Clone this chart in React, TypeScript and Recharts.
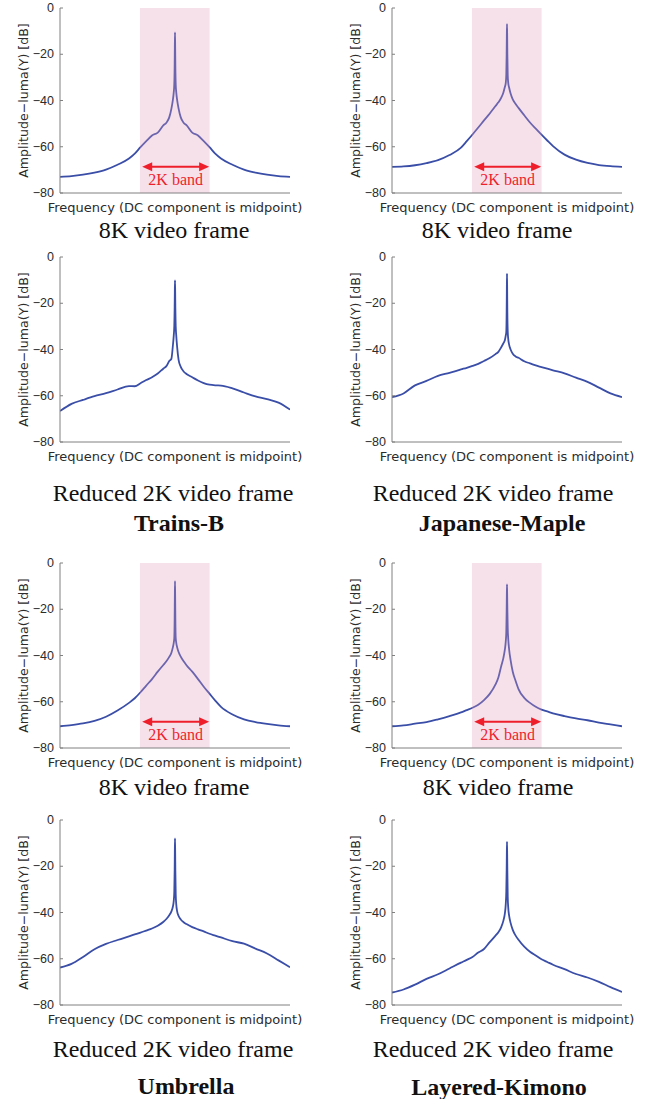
import { LineChart, Line, XAxis, YAxis, ReferenceArea, ReferenceLine } from 'recharts'

// frequency bins (DC component in the middle), denser around the DC spike
const FREQ = [
  0, 256, 512, 768, 1024, 1280, 1536, 1664, 1792, 1920, 2048, 2176, 2304, 2368, 2432, 2480, 2512, 2532, 2544, 2552, 2556,
  2560,
  2564, 2568, 2576, 2588, 2608, 2640, 2688, 2752, 2816, 2944, 3072, 3200, 3328, 3456, 3584, 3840, 4096, 4352, 4608, 4864, 5120,
]

// amplitude in dB, one array per panel
const TRAINS_8K = [
  -73.0, -72.7, -72.1, -71.2, -69.9, -67.8, -65.1, -63.0, -60.2, -57.6, -55.1, -53.9, -50.7, -49.6, -47.3, -43.5, -39.8, -36.5, -33, -25, -17,
  -10.5,
  -17, -25, -33, -36.5, -39.8, -43.5, -47.3, -49.6, -50.7, -53.9, -55.1, -57.6, -60.2, -63.0, -65.1, -67.8, -69.9, -71.2, -72.1, -72.7, -73.0,
]
const TRAINS_2K = [
  -66.6, -63.5, -61.8, -60.2, -58.9, -57.3, -55.8, -55.9, -54.6, -53.2, -52.0, -50.4, -48.2, -47.2, -45.0, -44.0, -38.5, -34, -30, -22, -15,
  -10.1,
  -15, -22, -30, -34, -39, -44.5, -47.5, -49.5, -50.6, -52.0, -53.4, -54.5, -55.2, -55.5, -55.6, -56.8, -58.6, -60.3, -61.5, -63.0, -66.0,
]
const MAPLE_8K = [
  -68.7, -68.5, -68.0, -67.1, -65.8, -63.6, -60.4, -57.6, -54.7, -51.7, -48.6, -45.6, -42.4, -40.8, -38.8, -36.5, -34.2, -32.5, -29, -20, -12,
  -7,
  -12, -20, -29, -32.5, -34.5, -37, -39.5, -41.5, -43.2, -46.4, -49.5, -52.2, -54.8, -57.3, -59.7, -63.4, -65.6, -67.0, -67.9, -68.4, -68.7,
]
const MAPLE_2K = [
  -60.6, -59.0, -55.5, -53.6, -51.4, -50.1, -48.6, -47.9, -47.1, -46.2, -45.0, -43.7, -42.0, -41.0, -39.0, -37.3, -36.0, -34.0, -32.5, -24, -15,
  -7.2,
  -15, -24, -32, -35.5, -38, -40, -41.8, -43, -43.6, -45.1, -46.0, -46.9, -47.6, -48.3, -49.0, -50.3, -52.2, -54.0, -56.5, -59.0, -60.6,
]
const UMBRELLA_8K = [
  -70.6, -70.1, -69.4, -68.3, -66.5, -63.8, -60.5, -58.5, -55.9, -53.0, -50.2, -47.0, -44.0, -42.5, -40.6, -38.8, -36.5, -34.5, -32.5, -24, -15,
  -7.8,
  -15, -24, -32.5, -34.5, -36.5, -38.5, -40.5, -42.5, -44.2, -47.0, -50.2, -53.5, -56.5, -59.5, -62.2, -65.5, -67.6, -68.8, -69.6, -70.2, -70.6,
]
const UMBRELLA_2K = [
  -63.8, -62.2, -59.2, -55.9, -53.6, -51.9, -50.3, -49.5, -48.7, -47.8, -46.9, -45.7, -44.0, -42.8, -41.2, -39.5, -37.5, -35, -31, -22, -14,
  -8,
  -14, -22, -32, -36.5, -39.5, -41.5, -43, -44.2, -45.0, -46.3, -47.3, -48.2, -49.2, -50.0, -50.8, -52.4, -53.5, -55.6, -57.7, -60.7, -63.7,
]
const KIMONO_8K = [
  -70.6, -70.2, -69.5, -68.8, -67.6, -66.2, -64.6, -63.6, -62.6, -61.3, -59.3, -56.6, -52.5, -49.5, -44.5, -41, -37.5, -34, -30, -21, -14,
  -9.2,
  -14, -20, -28, -33, -37.5, -42, -47, -51, -54.5, -58.3, -60.5, -62.2, -63.4, -64.2, -65.0, -66.2, -67.2, -68.0, -69.0, -69.8, -70.6,
]
const KIMONO_2K = [
  -74.6, -73.3, -71.2, -68.7, -66.7, -64.2, -61.7, -60.5, -59.2, -57.3, -55.8, -52.8, -50.0, -48.5, -46.3, -43.5, -40.5, -36.5, -31, -22, -15,
  -9.5,
  -15, -22, -33, -38, -41.5, -44.5, -47.5, -50, -51.8, -54.8, -57.0, -58.6, -60.2, -61.4, -62.6, -64.5, -66.6, -68.1, -70.0, -72.3, -74.4,
]

const X_TICKS = [1000, 2000, 3000, 4000, 5000]
const Y_TICKS = [-80, -60, -40, -20, 0]
const BAND = [1780, 3330]
const ARROW = [1830, 3320]
const ARROW_Y = -68.7

const CAPTIONS: [string, number, number, boolean][] = [
  ['8K video frame', 174, 230, false],
  ['8K video frame', 497, 230, false],
  ['Reduced 2K video frame', 173, 493, false],
  ['Reduced 2K video frame', 493, 493, false],
  ['Trains-B', 179, 523, true],
  ['Japanese-Maple', 502, 523, true],
  ['8K video frame', 174, 787, false],
  ['8K video frame', 498, 787, false],
  ['Reduced 2K video frame', 173, 1049, false],
  ['Reduced 2K video frame', 493, 1049, false],
  ['Umbrella', 186, 1086, true],
  ['Layered-Kimono', 499, 1087, true],
]

const BLUE = '#3a4ea8'
const RED = '#ee1f2b'
const FRAME = '#808080'
const INK = '#2b2b2b'
const SANS = '"DejaVu Sans", sans-serif'
const SERIF = '"Liberation Serif", "Times New Roman", serif'

// y tick label, drawn at the position recharts hands over
function DbTick(props: any) {
  const { x, y, payload } = props
  const v = payload.value as number
  return (
    <text
      x={x}
      y={y}
      textAnchor="end"
      dominantBaseline="central"
      fontFamily='"Liberation Sans", Arial, sans-serif'
      fontSize={12.5}
      fill={INK}
    >
      {v < 0 ? `\u2212${-v}` : `${v}`}
    </text>
  )
}

function BandArrow(props: any) {
  const { x1, x2, y1 } = props
  const head = 10
  const half = 4.5
  return (
    <g>
      <line x1={x1 + head - 1} y1={y1} x2={x2 - head + 1} y2={y1} stroke={RED} strokeWidth={2} />
      <polygon points={`${x1},${y1} ${x1 + head},${y1 - half} ${x1 + head},${y1 + half}`} fill={RED} />
      <polygon points={`${x2},${y1} ${x2 - head},${y1 - half} ${x2 - head},${y1 + half}`} fill={RED} />
      <text
        x={(x1 + x2) / 2}
        y={y1 + 13}
        textAnchor="middle"
        dominantBaseline="central"
        fontFamily={SERIF}
        fontSize={16}
        fill={RED}
      >
        2K band
      </text>
    </g>
  )
}

function Spectrum({ values, band }: { values: number[]; band: boolean }) {
  const data = FREQ.map((f, i) => ({ f, y: values[i] }))

  return (
    <LineChart width={316} height={219} data={data} margin={{ top: 10, right: 26, bottom: 0, left: 0 }}>
      <XAxis
        dataKey="f"
        type="number"
        domain={[0, 5120]}
        ticks={X_TICKS}
        tick={false}
        tickSize={-3}
        height={24}
        stroke={FRAME}
        allowDataOverflow
        label={{
          value: 'Frequency (DC component is midpoint)',
          position: 'insideBottom',
          offset: 5,
          style: { fontFamily: SANS, fontSize: 13, fill: INK },
        }}
      />
      <XAxis
        xAxisId="top"
        orientation="top"
        dataKey="f"
        type="number"
        domain={[0, 5120]}
        ticks={X_TICKS}
        tick={false}
        tickSize={-3}
        height={0}
        stroke={FRAME}
        allowDataOverflow
      />
      <YAxis
        type="number"
        domain={[-80, 0]}
        ticks={Y_TICKS}
        tickSize={-3}
        tickMargin={9}
        width={60}
        stroke={FRAME}
        tick={DbTick}
        allowDataOverflow
        label={{
          value: 'Amplitude\u2212luma(Y) [dB]',
          angle: -90,
          position: 'insideLeft',
          offset: 24,
          style: { textAnchor: 'middle', fontFamily: SANS, fontSize: 12.6, fill: INK },
        }}
      />
      <YAxis
        yAxisId="right"
        orientation="right"
        type="number"
        domain={[-80, 0]}
        ticks={Y_TICKS}
        tick={false}
        tickSize={-3}
        width={0}
        stroke={FRAME}
        allowDataOverflow
      />
      <Line type="monotone" dataKey="y" stroke={BLUE} strokeWidth={1.8} dot={false} isAnimationActive={false} />
      {band && (
        <ReferenceArea
          x1={BAND[0]}
          x2={BAND[1]}
          y1={-80}
          y2={0}
          fill="#e29bbd"
          fillOpacity={0.3}
          stroke="none"
          zIndex={450}
        />
      )}
      {band && (
        <ReferenceLine
          segment={[
            { x: ARROW[0], y: ARROW_Y },
            { x: ARROW[1], y: ARROW_Y },
          ]}
          shape={BandArrow}
          zIndex={460}
        />
      )}
    </LineChart>
  )
}

const PANELS = [
  { values: TRAINS_8K, band: true, left: 0, top: -2 },
  { values: MAPLE_8K, band: true, left: 332, top: -2 },
  { values: TRAINS_2K, band: false, left: 0, top: 247 },
  { values: MAPLE_2K, band: false, left: 332, top: 247 },
  { values: UMBRELLA_8K, band: true, left: 0, top: 553 },
  { values: KIMONO_8K, band: true, left: 332, top: 553 },
  { values: UMBRELLA_2K, band: false, left: 0, top: 810 },
  { values: KIMONO_2K, band: false, left: 332, top: 810 },
]

export default function App() {
  return (
    <div style={{ position: 'absolute', left: 0, top: 0, width: 648, height: 1099, background: '#fff', overflow: 'hidden' }}>
      {PANELS.map((p, i) => (
        <div key={i} style={{ position: 'absolute', left: p.left, top: p.top }}>
          <Spectrum values={p.values} band={p.band} />
        </div>
      ))}
      {CAPTIONS.map(([text, cx, cy, bold], i) => (
        <div
          key={`cap-${i}`}
          style={{
            position: 'absolute',
            left: cx - 150,
            top: cy - 14,
            width: 300,
            textAlign: 'center',
            whiteSpace: 'nowrap',
            fontFamily: SERIF,
            fontSize: 24,
            lineHeight: '28px',
            fontWeight: bold ? 'bold' : 'normal',
            color: '#111',
          }}
        >
          {text}
        </div>
      ))}
    </div>
  )
}
